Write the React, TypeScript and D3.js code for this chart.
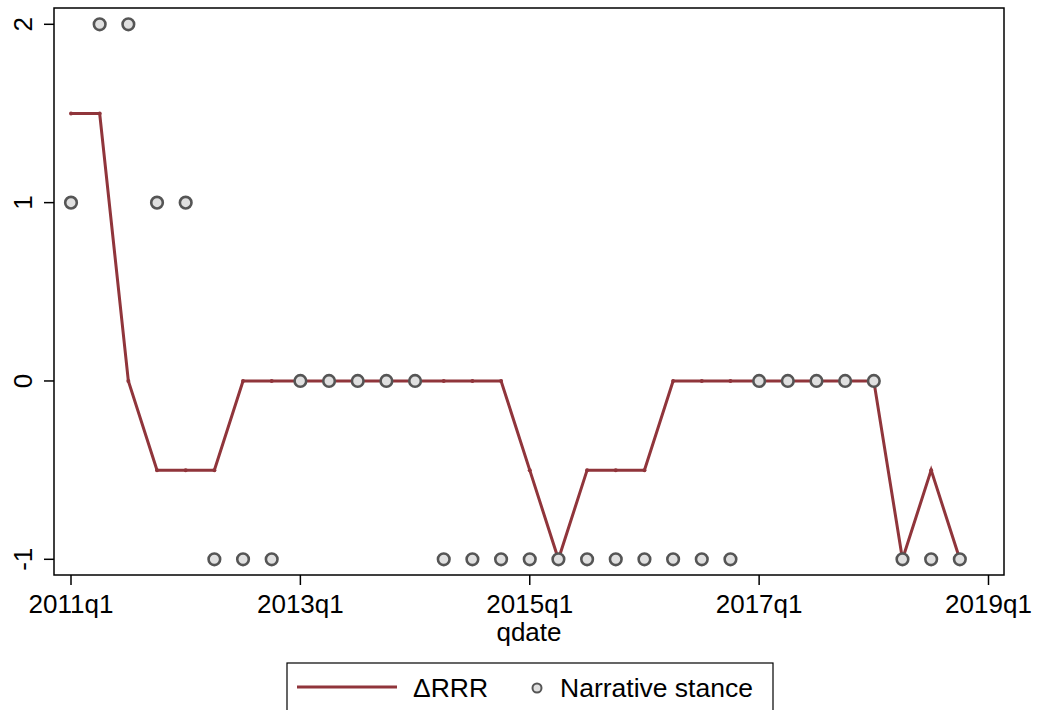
import React from 'react';
import * as d3 from 'd3';

// quarters 2011q1 .. 2018q4 (index 0 = 2011q1)
const quarters = d3.range(0, 32);
const rrr = [1.5, 1.5, 0, -0.5, -0.5, -0.5, 0, 0, 0, 0, 0, 0, 0, 0, 0, 0,
  -0.5, -1, -0.5, -0.5, -0.5, 0, 0, 0, 0, 0, 0, 0, 0, -1, -0.5, -1];
const stance = [1, 2, 2, 1, 1, -1, -1, -1, 0, 0, 0, 0, 0, -1, -1, -1,
  -1, -1, -1, -1, -1, -1, -1, -1, 0, 0, 0, 0, 0, -1, -1, -1];
const xTicks = [0, 8, 16, 24, 32];
const xTickLabels = ['2011q1', '2013q1', '2015q1', '2017q1', '2019q1'];
const yTicks = [-1, 0, 1, 2];

const W = 1037;
const H = 710;
const plot = { left: 54, right: 1004, top: 8, bottom: 575 };
const FONT = '"Liberation Sans", Arial, Helvetica, sans-serif';
const LINE_COLOR = '#90353b';

export default function App() {
  const x = d3.scaleLinear().domain([0, 32]).range([71, 988.5]);
  const y = d3.scaleLinear().domain([-1, 2]).range([559.3, 24.3]);

  const line = d3.line<number>()
    .x((d, i) => x(quarters[i]))
    .y((d) => y(d));

  return (
    <svg width={W} height={H} style={{ position: 'absolute', left: 0, top: 0, background: '#fff' }}
      fontFamily={FONT}>
      <rect x={0} y={0} width={W} height={H} fill="#fff" />
      {/* plot frame */}
      <rect x={plot.left} y={plot.top} width={plot.right - plot.left} height={plot.bottom - plot.top}
        fill="none" stroke="#000" strokeWidth={1.5} />

      {/* y axis */}
      {yTicks.map((t) => (
        <g key={t}>
          <line x1={plot.left - 10} x2={plot.left} y1={y(t)} y2={y(t)} stroke="#000" strokeWidth={1.5} />
          <text transform={`translate(${32},${y(t)}) rotate(-90)`} textAnchor="middle" fontSize={26}>
            {t}
          </text>
        </g>
      ))}

      {/* x axis */}
      {xTicks.map((t, i) => (
        <g key={t}>
          <line x1={x(t)} x2={x(t)} y1={plot.bottom} y2={plot.bottom + 10} stroke="#000" strokeWidth={1.5} />
          <text x={x(t)} y={613} textAnchor="middle" fontSize={26}>{xTickLabels[i]}</text>
        </g>
      ))}
      <text x={529} y={641} textAnchor="middle" fontSize={26}>qdate</text>

      {/* ΔRRR line */}
      <path d={line(rrr) ?? ''} fill="none" stroke={LINE_COLOR} strokeWidth={3} strokeLinejoin="miter" />
      {rrr.map((v, i) => (
        <circle key={'r' + i} cx={x(quarters[i])} cy={y(v)} r={2} fill={LINE_COLOR} />
      ))}

      {/* narrative stance markers */}
      {stance.map((v, i) => (
        <circle key={'s' + i} cx={x(quarters[i])} cy={y(v)} r={5.8} fill="#e0e0e0" stroke="#555" strokeWidth={2.6} />
      ))}

      {/* legend */}
      <rect x={287} y={663} width={486} height={60} fill="#fff" stroke="#000" strokeWidth={1.2} />
      <line x1={297} x2={397} y1={687} y2={687} stroke={LINE_COLOR} strokeWidth={3} />
      <text x={413} y={697} fontSize={26.5}>ΔRRR</text>
      <circle cx={537} cy={688} r={4.5} fill="#e0e0e0" stroke="#555" strokeWidth={2} />
      <text x={560} y={697} fontSize={26.5}>Narrative stance</text>
    </svg>
  );
}
